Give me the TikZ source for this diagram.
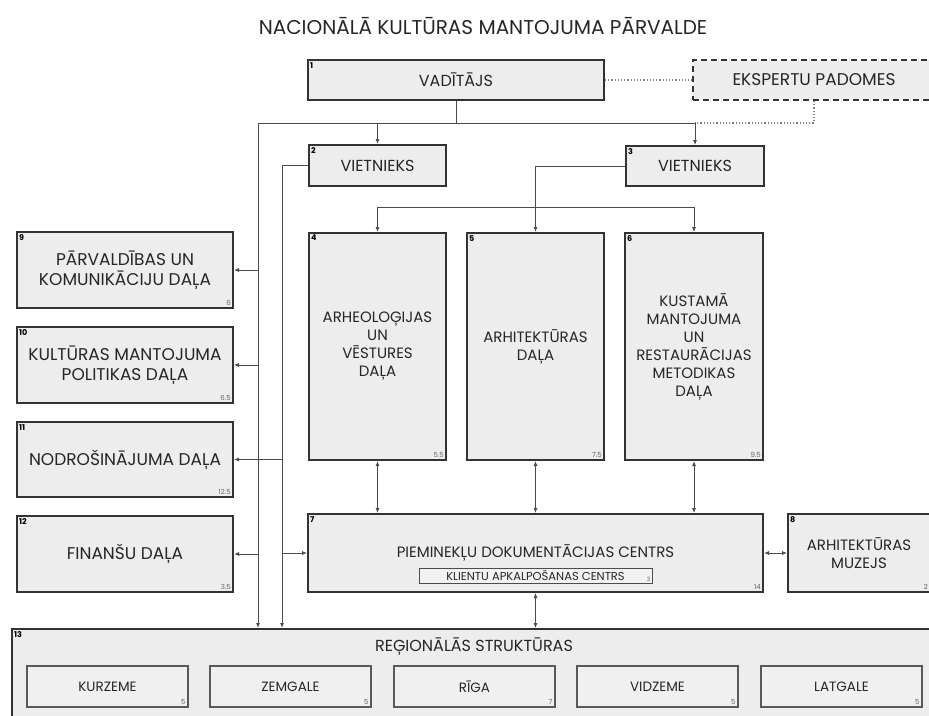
\documentclass[tikz,border=0pt]{standalone}
\usepackage{fontspec}
\setmainfont{Poppins}
\usetikzlibrary{arrows.meta}

\begin{document}
\begin{tikzpicture}[x=1pt, y=-1pt,
    unit/.style={draw=black!80, line width=2pt, fill=black!7, align=center, inner sep=2pt, text=black!85, font=\fontsize{16}{19}\selectfont},
    dept/.style={unit, font=\fontsize{15}{18}\selectfont},
    side/.style={unit, minimum width=216pt, font=\fontsize{17}{20}\selectfont},
    region/.style={draw=black!65, line width=1.2pt, fill=black!6, minimum width=161pt, minimum height=41pt, text=black!85, font=\fontsize{13.5}{15}\selectfont},
    nr/.style={label={[anchor=north west, inner sep=3pt, font=\fontsize{8}{9}\selectfont\bfseries]north west:#1}},
    cnt/.style={label={[anchor=south east, inner sep=3pt, text=black!60, font=\fontsize{7}{8}\selectfont]south east:#1}},
    link/.style={draw=black!70, line width=0.8pt},
    arr/.style={link, -{Latex[length=5pt, width=4pt]}},
    dbl/.style={link, {Latex[length=5pt, width=4pt]}-{Latex[length=5pt, width=4pt]}},
    dots/.style={draw=black!50, line width=1.2pt, dotted}
]
\useasboundingbox[fill=white] (0,0) rectangle (929,715);

\node[font=\fontsize{20}{24}\selectfont, text=black!85] (title) at (483,26) {NACIONĀLĀ KULTŪRAS MANTOJUMA PĀRVALDE};

\node[unit, nr=1, minimum width=296pt, minimum height=40pt] (lead) at (456,80) {VADĪTĀJS};
\node[unit, dash pattern=on 6pt off 4pt, minimum width=242pt, minimum height=40pt, font=\fontsize{17}{20}\selectfont] (experts) at (814,80) {EKSPERTU PADOMES};
\node[unit, nr=2, minimum width=137pt, minimum height=41pt] (dep2) at (377.5,165.5) {VIETNIEKS};
\node[unit, nr=3, minimum width=138pt, minimum height=40pt] (dep3) at (695,166) {VIETNIEKS};

\node[dept, nr=4, cnt=5.5, minimum width=137pt, minimum height=227pt] (arch) at (377.5,346.5) {ARHEOLOĢIJAS\\UN\\VĒSTURES\\DAĻA};
\node[dept, nr=5, cnt=7.5, minimum width=137pt, minimum height=227pt] (build) at (535.5,346.5) {ARHITEKTŪRAS\\DAĻA};
\node[dept, nr=6, cnt=9.5, minimum width=138pt, minimum height=227pt] (restor) at (694,346.5) {KUSTAMĀ\\MANTOJUMA\\UN\\RESTAURĀCIJAS\\METODIKAS\\DAĻA};

\node[dept, nr=7, cnt=14, minimum width=455pt, minimum height=78pt] (docs) at (535.5,553) {PIEMINEKĻU DOKUMENTĀCIJAS CENTRS};
\node[draw=black!70, line width=1pt, fill=black!5, minimum width=233pt, minimum height=15pt, inner sep=1pt, text=black!85, font=\fontsize{11.5}{12}\selectfont, label={[anchor=south east, inner sep=2pt, text=black!60, font=\fontsize{6}{7}\selectfont]south east:3}] (clients) at (535.5,575.5) {KLIENTU APKALPOŠANAS CENTRS};
\node[dept, nr=8, cnt=2, minimum width=142pt, minimum height=78pt] (museum) at (859,553) {ARHITEKTŪRAS\\MUZEJS};

\node[side, nr=9, cnt=6, minimum height=76pt] (admin) at (125,270) {PĀRVALDĪBAS UN\\KOMUNIKĀCIJU DAĻA};
\node[side, nr=10, cnt=6.5, minimum height=76pt] (policy) at (125,365) {KULTŪRAS MANTOJUMA\\POLITIKAS DAĻA};
\node[side, nr=11, cnt=12.5, minimum height=75pt] (supply) at (125,459.5) {NODROŠINĀJUMA DAĻA};
\node[side, nr=12, cnt=3.5, minimum height=76pt] (finance) at (125,554) {FINANŠU DAĻA};

\node[unit, nr=13, minimum width=924pt, minimum height=94pt, anchor=north] (regions) at (474,628) {};
\node[font=\fontsize{16}{19}\selectfont, text=black!85] (regtitle) at (474,647) {REĢIONĀLĀS STRUKTŪRAS};
\node[region, cnt=5] (kurzeme) at (107.5,686.5) {KURZEME};
\node[region, cnt=5] (zemgale) at (290.5,686.5) {ZEMGALE};
\node[region, cnt=7] (riga) at (474.5,686.5) {RĪGA};
\node[region, cnt=5] (vidzeme) at (657.5,686.5) {VIDZEME};
\node[region, cnt=5] (latgale) at (841.5,686.5) {LATGALE};

\coordinate (fork) at (456,123);
\coordinate (left) at (258,123);
\coordinate (right) at (282,166);
\coordinate (split) at (535.5,207);

\draw[dots] (lead.east) -- (experts.west);
\draw[dots] (experts.south) |- (dep3.north |- fork);

\draw[link] (lead.south) -- (fork);
\draw[arr] (fork) -| (dep2.north);
\draw[arr] (fork) -| (dep3.north);
\draw[arr] (fork) -| (left |- regions.north);
\draw[arr] (left |- admin.east) -- (admin.east);
\draw[arr] (left |- policy.east) -- (policy.east);
\draw[arr] (left |- finance.east) -- (finance.east);

\draw[arr] (dep2.west) -| (right |- regions.north);
\draw[arr] (right |- supply.east) -- (supply.east);
\draw[arr] (right |- docs.west) -- (docs.west);

\draw[arr] (dep3.west) -| (build.north);
\draw[arr] (split) -| (arch.north);
\draw[arr] (split) -| (restor.north);

\draw[dbl] (arch.south) -- (arch.south |- docs.north);
\draw[dbl] (build.south) -- (docs.north);
\draw[dbl] (restor.south) -- (restor.south |- docs.north);
\draw[dbl] (docs.south) -- (docs.south |- regions.north);
\draw[dbl] (docs.east) -- (museum.west);
\end{tikzpicture}
\end{document}
